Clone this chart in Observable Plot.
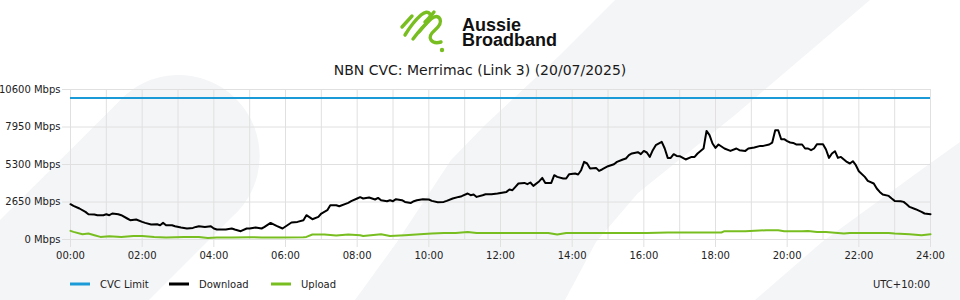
<!DOCTYPE html>
<html><head><meta charset="utf-8">
<script src="https://cdn.jsdelivr.net/npm/d3@7"></script>
<script src="https://cdn.jsdelivr.net/npm/@observablehq/plot@0.6"></script>
<style>
html,body{margin:0;padding:0;background:#fff;}
#wrap{position:relative;width:960px;height:300px;overflow:hidden;font-family:"DejaVu Sans",sans-serif;}
#wrap > svg, #chart{position:absolute;left:0;top:0;}
</style></head><body>
<div id="wrap">
<svg id="bg" width="960" height="300">
  <g fill="#f4f5f7">
    <path d="M0,220 L117.7,102.7 A81,81 0 1 1 232,217 L149,300 L0,300 Z"/>
    <path d="M615,0 L560,55 L485,125 L451,160 L397,242 L355,300 L565,300 L596,242 L638,193 L735,115 L870,0 Z"/>
    <path d="M755,300 L822,242 L932,162 L960,142 L960,300 Z"/>
  </g>
</svg>
<div id="chart"></div>
<svg id="fg" width="960" height="300" style="pointer-events:none">
  <g stroke="#78be20" stroke-width="3.4" fill="none" stroke-linecap="round" stroke-linejoin="round">
    <path d="M402,27 L412,16"/>
    <path d="M405,35 Q413,22 421,15 Q427,10 430,14 Q432,18 425,25 L419,32"/>
    <path d="M413,39 Q422,27 431,19 Q437,14 440,19 Q442,24 435,30 Q428,36 431,40 Q434,44 441,42"/>
    <path d="M425,22 Q431,16 434,12"/>
  </g>
  <circle cx="442" cy="50" r="2.2" fill="#78be20"/>
  <text font-family="Liberation Sans, Arial, sans-serif" font-weight="700" font-size="18" fill="#111"><tspan x="462" y="31">Aussie</tspan><tspan x="462" y="46">Broadband</tspan></text>
  <text id="title" x="480" y="75" text-anchor="middle" font-family="DejaVu Sans" font-size="14" fill="#1a1a1a"></text>
  <g id="legend" font-family="DejaVu Sans" font-size="10" fill="#222"></g>
</svg>
</div>
<script>
const chartTitle = "NBN CVC: Merrimac (Link 3) (20/07/2025)";
const timezoneLabel = "UTC+10:00";
const yTicks = [0, 2650, 5300, 7950, 10600];
const xTickLabels = ["00:00","02:00","04:00","06:00","08:00","10:00","12:00","14:00","16:00","18:00","20:00","22:00","24:00"];
const seriesNames = ["CVC Limit", "Download", "Upload"];
const seriesColors = ["#1a9bd8", "#000000", "#78be20"];
const cvcLimitMbps = [10000];

const downloadMinute = [0,5,15,25,30,40,45,55,60,65,70,80,85,95,100,110,120,125,135,145,150,155,160,170,175,185,195,205,210,215,225,235,240,245,250,260,270,275,285,295,300,310,320,325,335,345,355,365,370,380,390,395,405,415,420,430,435,445,450,465,470,480,485,490,500,510,515,520,530,535,540,545,555,560,570,575,580,590,600,605,615,625,630,640,650,655,665,670,675,680,690,695,705,715,720,730,735,740,745,750,760,765,770,775,785,790,795,805,810,815,825,830,835,845,850,855,860,865,870,880,885,890,900,910,915,925,930,935,940,950,955,960,965,970,975,980,990,995,1000,1005,1010,1015,1020,1030,1040,1045,1050,1060,1065,1070,1075,1080,1085,1095,1105,1115,1120,1130,1135,1145,1155,1160,1170,1175,1180,1185,1190,1195,1200,1205,1210,1215,1225,1230,1235,1240,1245,1250,1260,1265,1270,1275,1280,1285,1290,1300,1305,1310,1315,1320,1330,1335,1345,1350,1355,1360,1370,1375,1380,1390,1395,1400,1405,1415,1425,1430,1440];
const downloadMbps = [2495,2375,2191,1950,1788,1767,1717,1717,1788,1717,1837,1788,1717,1484,1364,1413,1244,1173,1060,1081,1011,1173,1011,1011,940,848,777,820,890,940,890,940,777,707,707,707,777,707,587,777,777,848,777,890,1173,961,777,1060,1201,1244,1364,1717,1435,1597,1837,2071,2424,2424,2353,2587,2707,2897,2989,2897,2968,2827,2940,2777,2707,2777,2707,2848,2777,2657,2587,2707,2777,2848,2827,2728,2636,2657,2728,2897,3010,3060,3251,3131,3180,3010,3131,3201,3201,3251,3293,3364,3534,3484,3717,3958,4000,3908,4028,3788,4120,4353,4000,4000,4544,4424,4311,4311,4615,4664,4594,4897,5484,5371,5018,5060,4848,4947,5180,5321,5484,5654,5724,5957,6078,6169,6028,6261,6148,5837,6311,6664,6897,6431,5767,5767,6028,5908,5887,5654,5837,5837,6078,6431,7675,7371,6784,6473,6714,6431,6261,6431,6311,6261,6431,6502,6615,6615,6714,6850,7724,7724,7088,7088,6947,6855,6827,6714,6714,6431,6431,6311,6431,6735,6735,6360,5767,6078,6240,5767,5837,5484,5371,5534,5251,4827,4424,4141,3958,3604,3364,3180,3081,2897,2728,2707,2657,2495,2304,2141,1950,1837,1788];

const uploadMinute = [0,5,20,30,40,50,65,85,105,120,140,160,190,215,230,245,270,300,320,350,390,395,405,425,445,465,485,490,520,535,560,585,605,625,645,665,680,700,725,760,800,815,830,880,920,965,1000,1050,1090,1095,1130,1165,1185,1195,1225,1235,1250,1265,1295,1305,1370,1380,1405,1425,1440];
const uploadMbps = [608,537,375,424,304,184,233,184,254,254,184,141,184,184,113,141,141,163,141,141,163,184,353,353,283,353,304,254,375,254,304,375,424,466,466,537,466,466,466,466,466,353,466,466,466,466,495,495,495,587,587,657,657,587,587,608,537,537,424,466,466,424,375,304,375];

const download = downloadMinute.map((m, i) => ({m, v: downloadMbps[i]}));
const upload = uploadMinute.map((m, i) => ({m, v: uploadMbps[i]}));
const xTicks = xTickLabels.map((s) => +s.slice(0, 2) * 60);
const hourGrid = d3.range(0, 25).map((h) => h * 60);
const gridColor = "#e0e0e0";

const chart = Plot.plot({
  width: 960,
  height: 300,
  marginTop: 89,
  marginBottom: 61,
  marginLeft: 70,
  marginRight: 30,
  style: {background: "transparent", fontFamily: "DejaVu Sans", fontSize: "10px", color: "#222"},
  x: {domain: [0, 1440]},
  y: {domain: [0, 10600]},
  marks: [
    Plot.gridX(hourGrid, {stroke: gridColor, strokeOpacity: 1}),
    Plot.gridY(yTicks, {stroke: gridColor, strokeOpacity: 1}),
    Plot.axisY(yTicks, {tickSize: 8, tickPadding: 2, tickFormat: (d) => d + " Mbps", stroke: gridColor, fill: "#222", fontSize: 10, label: null}),
    Plot.axisX(xTicks, {tickSize: 8, tickPadding: 4, tickFormat: (d) => xTickLabels[d / 120], stroke: gridColor, fill: "#222", fontSize: 10, label: null}),
    Plot.ruleY(cvcLimitMbps, {stroke: seriesColors[0], strokeWidth: 2}),
    Plot.line(download, {x: "m", y: "v", stroke: seriesColors[1], strokeWidth: 2, strokeLinejoin: "round"}),
    Plot.line(upload, {x: "m", y: "v", stroke: seriesColors[2], strokeWidth: 2, strokeLinejoin: "round"})
  ]
});
document.getElementById("chart").appendChild(chart);

document.getElementById("title").textContent = chartTitle;
const legendX = [70, 169, 271];
const lg = d3.select("#legend");
seriesNames.forEach((name, i) => {
  lg.append("rect").attr("x", legendX[i]).attr("y", 282.5).attr("width", 20).attr("height", 3).attr("fill", seriesColors[i]);
  lg.append("text").attr("x", legendX[i] + 30).attr("y", 287.5).text(name);
});
lg.append("text").attr("x", 930).attr("y", 287.5).attr("text-anchor", "end").text(timezoneLabel);
</script>
</body></html>
